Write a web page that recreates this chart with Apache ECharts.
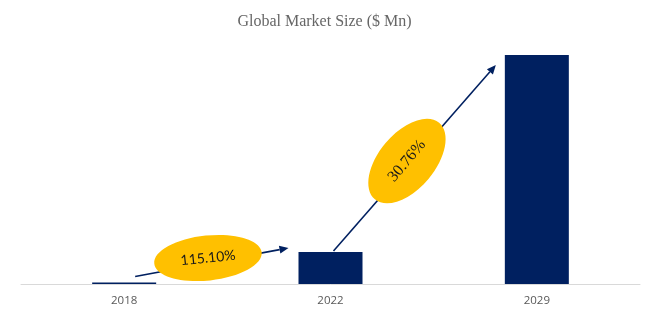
<!DOCTYPE html>
<html>
<head>
<meta charset="utf-8">
<script src="https://cdn.jsdelivr.net/npm/echarts@6/dist/echarts.min.js"></script>
<style>
html,body{margin:0;padding:0;background:#fff;}
#chart{width:649px;height:326px;}
</style>
</head>
<body>
<div id="chart"></div>
<script>
const categories = ['2018', '2022', '2029'];
const marketSize = [6.5, 140, 1000];
const growthLabels = ['115.10%', '30.76%'];
const titleText = 'Global Market Size ($ Mn)';

const chart = echarts.init(document.getElementById('chart'));
const navy = '#002060';

chart.setOption({
  animation: false,
  title: {
    text: titleText,
    left: 'center',
    top: 9,
    textStyle: { fontFamily: 'Liberation Serif', fontWeight: 'normal', fontSize: 16, color: '#666666' }
  },
  grid: { left: 21, right: 9, top: 55, bottom: 42 },
  xAxis: {
    type: 'category',
    data: categories,
    axisLine: { lineStyle: { color: '#d9d9d9', width: 1 } },
    axisTick: { show: false },
    axisLabel: { color: '#595959', fontSize: 11.5, margin: 11, fontFamily: 'Open Sans' }
  },
  yAxis: {
    type: 'value',
    min: 0,
    max: 1000,
    show: false,
    splitLine: { show: false }
  },
  series: [{
    type: 'bar',
    data: marketSize,
    barWidth: 64,
    itemStyle: { color: navy }
  }]
});

function arrow(x1, y1, x2, y2) {
  const ang = Math.atan2(y2 - y1, x2 - x1);
  const L = 9, W = 4;
  const bx = x2 - L * Math.cos(ang), by = y2 - L * Math.sin(ang);
  const px = -Math.sin(ang) * W, py = Math.cos(ang) * W;
  return [
    { type: 'line', shape: { x1: x1, y1: y1, x2: bx, y2: by }, style: { stroke: navy, lineWidth: 1.6 }, z: 10 },
    { type: 'polygon', shape: { points: [[x2, y2], [bx + px, by + py], [bx - px, by - py]] }, style: { fill: navy }, z: 10 }
  ];
}

const p2018 = chart.convertToPixel({ seriesIndex: 0 }, [0, marketSize[0]]);
const p2022 = chart.convertToPixel({ seriesIndex: 0 }, [1, marketSize[1]]);
const p2029 = chart.convertToPixel({ seriesIndex: 0 }, [2, marketSize[2]]);

const a1 = arrow(p2018[0] + 11, p2018[1] - 6, p2022[0] - 42, p2022[1] - 4);
const a2 = arrow(p2022[0] + 3, p2022[1] - 1, p2029[0] - 41, p2029[1] + 10);

chart.setOption({
  graphic: [].concat(a1, a2, [
    {
      type: 'group', x: 208, y: 258, rotation: 6 * Math.PI / 180,
      children: [
        { type: 'ellipse', z: 20, shape: { cx: 0, cy: 0, rx: 54, ry: 22.5 }, style: { fill: '#ffc000' } },
        { type: 'text', z: 21, x: 0, y: 0, style: { text: growthLabels[0], fontFamily: 'Lato', fontSize: 14, fill: '#1a1a1a', align: 'center', verticalAlign: 'middle' } }
      ]
    },
    {
      type: 'group', x: 407, y: 161, rotation: 50 * Math.PI / 180,
      children: [
        { type: 'ellipse', z: 20, shape: { cx: 0, cy: 0, rx: 50, ry: 28 }, style: { fill: '#ffc000' } },
        { type: 'text', z: 21, x: 0, y: 0, style: { text: growthLabels[1], fontFamily: 'Liberation Serif', fontSize: 16, fill: '#1a1a1a', align: 'center', verticalAlign: 'middle' } }
      ]
    }
  ])
});
</script>
</body>
</html>
